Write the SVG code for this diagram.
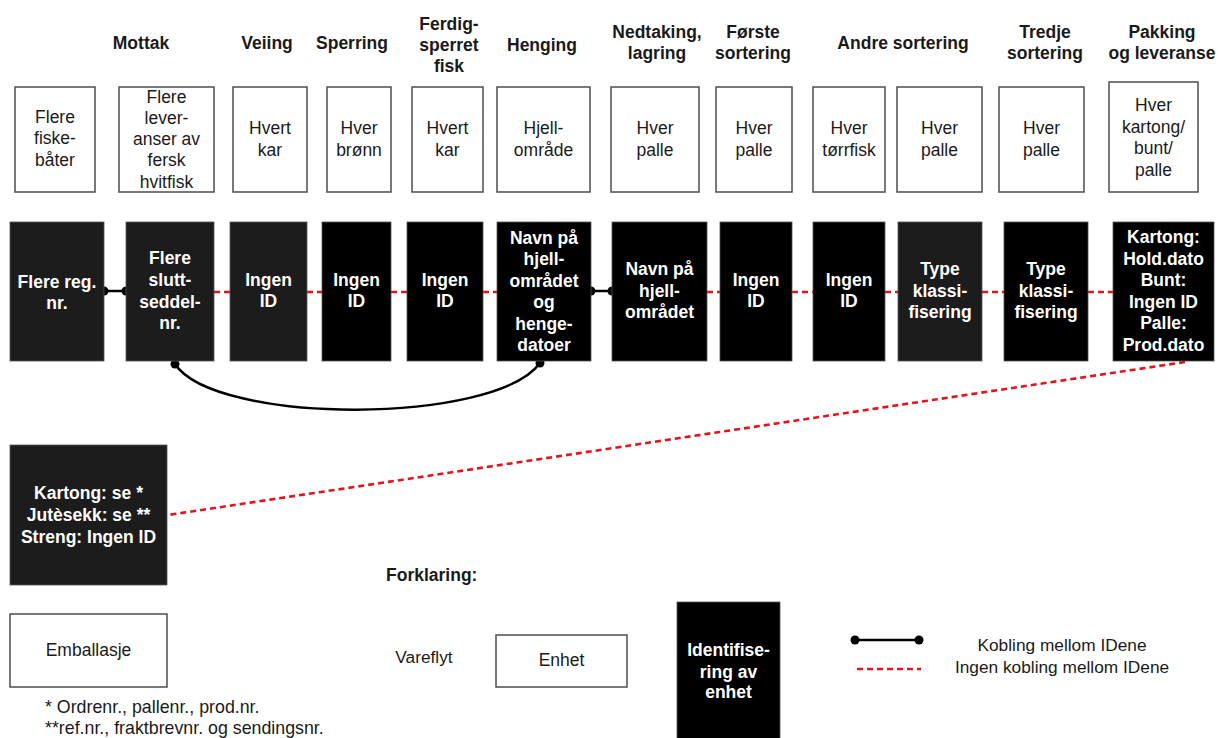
<svg xmlns="http://www.w3.org/2000/svg" width="1218" height="738" viewBox="0 0 1218 738">
  <style>
    .hdr { font-family: "Liberation Sans", Arial, sans-serif; font-size: 17.5px; font-weight: bold; fill: #1a1a1a; text-anchor: middle; }
    .unit rect { fill: #ffffff; stroke: #4d4d4d; stroke-width: 1.5; }
    .unit text { font-family: "Liberation Sans", Arial, sans-serif; font-size: 17.5px; fill: #1a1a1a; text-anchor: middle; }
    .idbox rect { fill: #000000; stroke: #555555; stroke-width: 0.8; }
    .idbox rect.soft { fill: #1c1c1c; }
    .idbox text { font-family: "Liberation Sans", Arial, sans-serif; font-size: 17.5px; font-weight: bold; fill: #ffffff; text-anchor: middle; }
    .link { stroke: #000000; stroke-width: 2.5; fill: none; }
    .nolink { stroke: #e3141c; stroke-width: 2.6; fill: none; stroke-dasharray: 6 4; }
    .dot { fill: #000000; }
    .note { font-family: "Liberation Sans", Arial, sans-serif; font-size: 17.8px; fill: #1a1a1a; }
    .legend { font-family: "Liberation Sans", Arial, sans-serif; font-size: 17.3px; fill: #1a1a1a; text-anchor: middle; }
  </style>

  <!-- Process stage headings -->
  <g id="headings">
    <text class="hdr" x="141" y="49">Mottak</text>
    <text class="hdr" x="267" y="49">Veiing</text>
    <text class="hdr" x="352" y="49">Sperring</text>
    <text class="hdr" x="449" y="30">Ferdig-</text>
    <text class="hdr" x="449" y="51">sperret</text>
    <text class="hdr" x="449" y="72">fisk</text>
    <text class="hdr" x="542" y="51">Henging</text>
    <text class="hdr" x="657" y="38">Nedtaking,</text>
    <text class="hdr" x="657" y="59">lagring</text>
    <text class="hdr" x="753" y="38">Første</text>
    <text class="hdr" x="753" y="59">sortering</text>
    <text class="hdr" x="903" y="49">Andre sortering</text>
    <text class="hdr" x="1045" y="38">Tredje</text>
    <text class="hdr" x="1045" y="59">sortering</text>
    <text class="hdr" x="1162" y="38">Pakking</text>
    <text class="hdr" x="1162" y="59">og leveranse</text>
  </g>

  <!-- Units (white boxes) -->
  <g id="unit-fiskebater" class="unit">
    <rect x="15" y="87" width="80" height="105"/>
    <text x="55" y="123">Flere</text><text x="55" y="144">fiske-</text><text x="55" y="166">båter</text>
  </g>
  <g id="unit-leveranser" class="unit">
    <rect x="119" y="87" width="95" height="105"/>
    <text x="166.5" y="103">Flere</text><text x="166.5" y="124">lever-</text><text x="166.5" y="145">anser av</text><text x="166.5" y="166">fersk</text><text x="166.5" y="188">hvitfisk</text>
  </g>
  <g id="unit-veiing" class="unit">
    <rect x="233" y="87" width="74" height="105"/>
    <text x="270" y="134">Hvert</text><text x="270" y="156">kar</text>
  </g>
  <g id="unit-sperring" class="unit">
    <rect x="327" y="87" width="64" height="105"/>
    <text x="359" y="134">Hver</text><text x="359" y="156">brønn</text>
  </g>
  <g id="unit-ferdig" class="unit">
    <rect x="412" y="87" width="71" height="105"/>
    <text x="447.5" y="134">Hvert</text><text x="447.5" y="156">kar</text>
  </g>
  <g id="unit-henging" class="unit">
    <rect x="497" y="87" width="93" height="105"/>
    <text x="543.5" y="134">Hjell-</text><text x="543.5" y="156">område</text>
  </g>
  <g id="unit-nedtaking" class="unit">
    <rect x="611" y="87" width="88" height="105"/>
    <text x="655" y="134">Hver</text><text x="655" y="156">palle</text>
  </g>
  <g id="unit-forste" class="unit">
    <rect x="716" y="87" width="76" height="105"/>
    <text x="754" y="134">Hver</text><text x="754" y="156">palle</text>
  </g>
  <g id="unit-andre-a" class="unit">
    <rect x="813" y="87" width="72" height="105"/>
    <text x="849" y="134">Hver</text><text x="849" y="156">tørrfisk</text>
  </g>
  <g id="unit-andre-b" class="unit">
    <rect x="897" y="87" width="85" height="105"/>
    <text x="939.5" y="134">Hver</text><text x="939.5" y="156">palle</text>
  </g>
  <g id="unit-tredje" class="unit">
    <rect x="999" y="87" width="85" height="105"/>
    <text x="1041.5" y="134">Hver</text><text x="1041.5" y="156">palle</text>
  </g>
  <g id="unit-pakking" class="unit">
    <rect x="1109" y="82" width="89" height="110"/>
    <text x="1153.5" y="111">Hver</text><text x="1153.5" y="133">kartong/</text><text x="1153.5" y="154">bunt/</text><text x="1153.5" y="176">palle</text>
  </g>

  <!-- Connectors between identifications -->
  <g id="connectors">
    <line class="link" x1="104" y1="291" x2="126" y2="291"/>
    <circle class="dot" cx="104" cy="291" r="4.5"/>
    <circle class="dot" cx="126" cy="291" r="4.5"/>
    <line class="nolink" x1="214" y1="292" x2="230" y2="292"/>
    <line class="nolink" x1="307" y1="292" x2="322" y2="292"/>
    <line class="nolink" x1="391" y1="292" x2="407" y2="292"/>
    <line class="nolink" x1="483" y1="292" x2="497" y2="292"/>
    <line class="link" x1="591" y1="291" x2="612" y2="291"/>
    <circle class="dot" cx="591" cy="291" r="4.5"/>
    <circle class="dot" cx="612" cy="291" r="4.5"/>
    <line class="nolink" x1="707" y1="292" x2="720" y2="292"/>
    <line class="nolink" x1="792" y1="292" x2="813" y2="292"/>
    <line class="nolink" x1="885" y1="292" x2="898" y2="292"/>
    <line class="nolink" x1="982" y1="292" x2="1004" y2="292"/>
    <line class="nolink" x1="1088" y1="292" x2="1113" y2="292"/>
    <path class="link" d="M175,364 C215,425 495,425 540,363"/>
    <circle class="dot" cx="175" cy="364" r="4.5"/>
    <circle class="dot" cx="540" cy="363" r="4.5"/>
    <line class="nolink" x1="1185" y1="362" x2="168" y2="515"/>
  </g>

  <!-- Identifications (black boxes) -->
  <g id="id-regnr" class="idbox">
    <rect class="soft" x="10" y="222" width="94" height="139"/>
    <text x="57" y="288">Flere reg.</text><text x="57" y="309">nr.</text>
  </g>
  <g id="id-sluttseddel" class="idbox">
    <rect class="soft" x="126" y="222" width="88" height="139"/>
    <text x="170" y="264">Flere</text><text x="170" y="286">slutt-</text><text x="170" y="308">seddel-</text><text x="170" y="329">nr.</text>
  </g>
  <g id="id-veiing" class="idbox">
    <rect class="soft" x="230" y="222" width="77" height="139"/>
    <text x="268.5" y="286">Ingen</text><text x="268.5" y="307">ID</text>
  </g>
  <g id="id-sperring" class="idbox">
    <rect x="322" y="222" width="69" height="139"/>
    <text x="356.5" y="286">Ingen</text><text x="356.5" y="307">ID</text>
  </g>
  <g id="id-ferdig" class="idbox">
    <rect x="407" y="222" width="76" height="139"/>
    <text x="445" y="286">Ingen</text><text x="445" y="307">ID</text>
  </g>
  <g id="id-henging" class="idbox">
    <rect x="497" y="222" width="94" height="139"/>
    <text x="544" y="244">Navn på</text><text x="544" y="265">hjell-</text><text x="544" y="287">området</text><text x="544" y="308">og</text><text x="544" y="330">henge-</text><text x="544" y="351">datoer</text>
  </g>
  <g id="id-nedtaking" class="idbox">
    <rect x="612" y="222" width="95" height="139"/>
    <text x="659.5" y="275">Navn på</text><text x="659.5" y="297">hjell-</text><text x="659.5" y="318">området</text>
  </g>
  <g id="id-forste" class="idbox">
    <rect x="720" y="222" width="72" height="139"/>
    <text x="756" y="286">Ingen</text><text x="756" y="307">ID</text>
  </g>
  <g id="id-andre-a" class="idbox">
    <rect x="813" y="222" width="72" height="139"/>
    <text x="849" y="286">Ingen</text><text x="849" y="307">ID</text>
  </g>
  <g id="id-andre-b" class="idbox">
    <rect class="soft" x="898" y="222" width="84" height="139"/>
    <text x="940" y="275">Type</text><text x="940" y="297">klassi-</text><text x="940" y="318">fisering</text>
  </g>
  <g id="id-tredje" class="idbox">
    <rect x="1004" y="222" width="84" height="139"/>
    <text x="1046" y="275">Type</text><text x="1046" y="297">klassi-</text><text x="1046" y="318">fisering</text>
  </g>
  <g id="id-pakking" class="idbox">
    <rect x="1113" y="222" width="101" height="139"/>
    <text x="1163.5" y="243">Kartong:</text><text x="1163.5" y="265">Hold.dato</text><text x="1163.5" y="286">Bunt:</text><text x="1163.5" y="308">Ingen ID</text><text x="1163.5" y="329">Palle:</text><text x="1163.5" y="351">Prod.dato</text>
  </g>

  <!-- Packaging -->
  <g id="id-emballasje" class="idbox">
    <rect class="soft" x="10" y="445" width="157" height="140"/>
    <text x="88.5" y="499">Kartong: se *</text><text x="88.5" y="521">Jutèsekk: se **</text><text x="88.5" y="543">Streng: Ingen ID</text>
  </g>
  <g id="unit-emballasje" class="unit">
    <rect x="10" y="614" width="157" height="73"/>
    <text x="88.5" y="656">Emballasje</text>
  </g>
  <g id="footnotes">
    <text class="note" x="45" y="713">* Ordrenr., pallenr., prod.nr.</text>
    <text class="note" x="45" y="734">**ref.nr., fraktbrevnr. og sendingsnr.</text>
  </g>

  <!-- Legend -->
  <g id="legend">
    <text class="hdr" x="386" y="581" style="text-anchor:start">Forklaring:</text>
    <text class="legend" x="424" y="663">Vareflyt</text>
    <g id="legend-enhet" class="unit">
      <rect x="496" y="635" width="131" height="52"/>
      <text x="561.5" y="666">Enhet</text>
    </g>
    <g id="legend-identifisering" class="idbox">
      <rect x="677" y="602" width="103" height="140"/>
      <text x="728.5" y="656">Identifise-</text><text x="728.5" y="678">ring av</text><text x="728.5" y="698">enhet</text>
    </g>
    <line class="link" x1="855" y1="640" x2="919" y2="640"/>
    <circle class="dot" cx="855" cy="640" r="4.5"/>
    <circle class="dot" cx="919" cy="640" r="4.5"/>
    <line class="nolink" x1="857" y1="669" x2="921" y2="669"/>
    <text class="legend" x="1062" y="651">Kobling mellom IDene</text>
    <text class="legend" x="1062" y="673">Ingen kobling mellom IDene</text>
  </g>
</svg>
